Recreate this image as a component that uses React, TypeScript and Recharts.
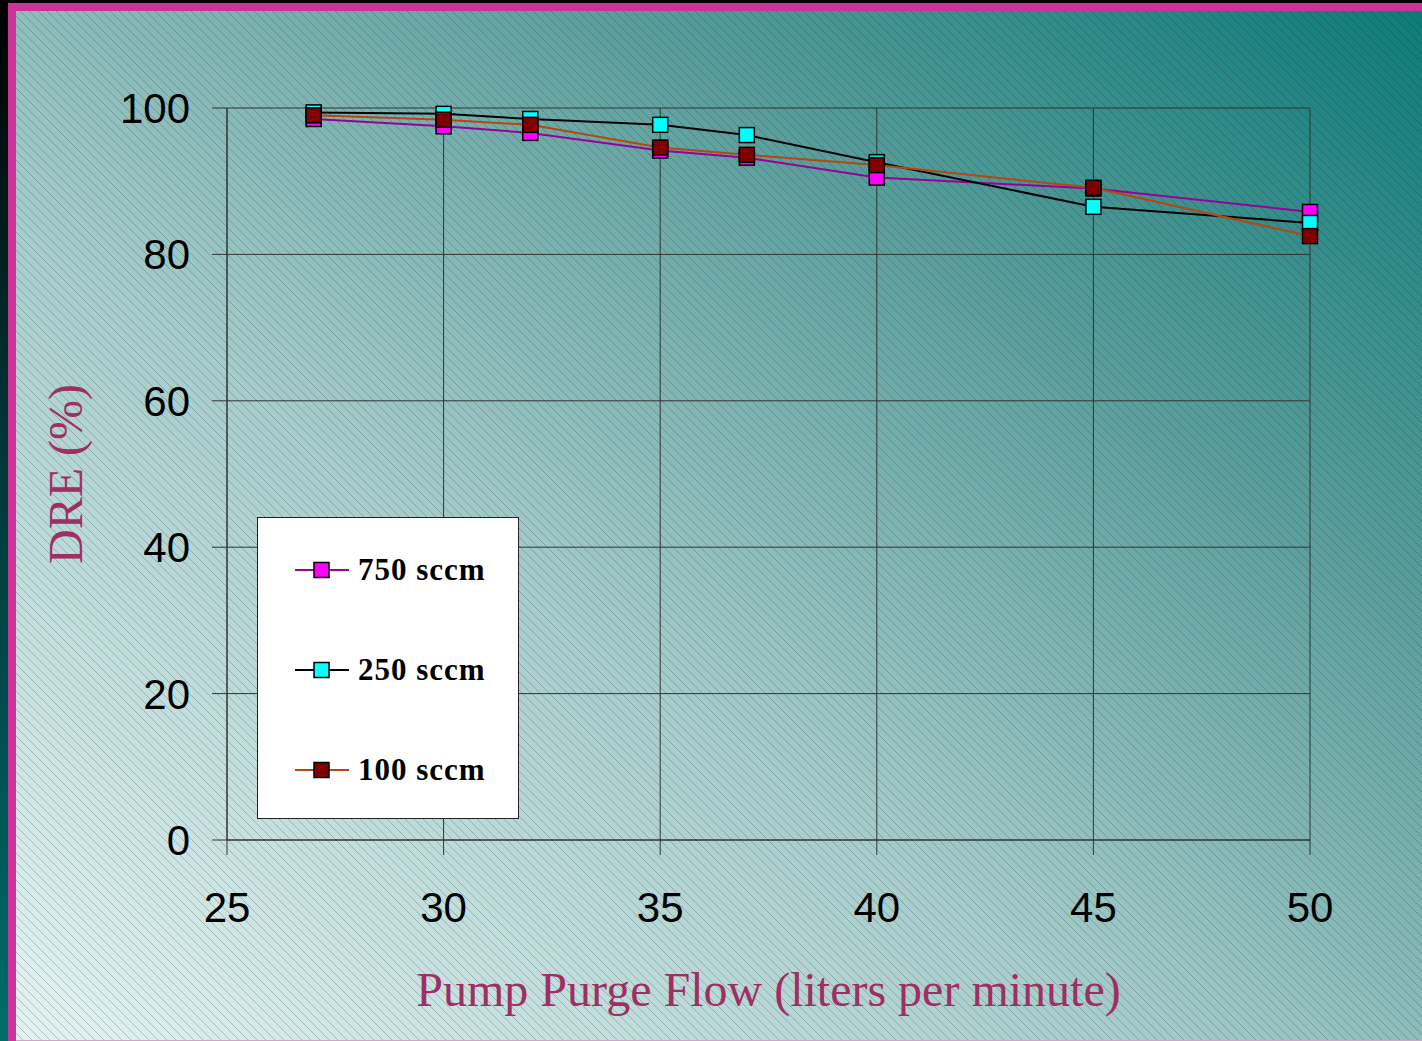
import React from "react";
import {
  LineChart,
  Line,
  XAxis,
  YAxis,
  CartesianGrid,
  Label,
} from "recharts";

// pump purge flow (l/min) where DRE was measured
const flow = [27, 30, 32, 35, 37, 40, 45, 50];
// DRE (%) per process flow
const dre750 = [98.5, 97.5, 96.6, 94.2, 93.2, 90.5, 89.0, 85.8];
const dre250 = [99.4, 99.2, 98.5, 97.7, 96.3, 92.6, 86.5, 84.3];
const dre100 = [99.0, 98.4, 97.7, 94.6, 93.6, 92.2, 89.1, 82.5];

const xTicks = [25, 30, 35, 40, 45, 50];
const yTicks = [0, 20, 40, 60, 80, 100];

const series = [
  { key: "s750", name: "750 sccm", line: "#990099", fill: "#ff00ff" },
  { key: "s250", name: "250 sccm", line: "#000000", fill: "#00ffff" },
  { key: "s100", name: "100 sccm", line: "#b5470f", fill: "#800000" },
];

const data = flow.map((f, i) => ({
  flow: f,
  s750: dre750[i],
  s250: dre250[i],
  s100: dre100[i],
}));

const TITLE_COLOR = "#9e2f62";
const SANS = "'Liberation Sans', Arial, sans-serif";
const SERIF = "'Liberation Serif', 'Times New Roman', serif";

// crisp diagonal hatch tile for the slide background
const hatchSvg =
  "<svg xmlns='http://www.w3.org/2000/svg' width='9' height='9'>" +
  "<path d='M0 0L9 9M-1 8L1 10M8 -1L10 1' stroke='rgba(0,30,30,0.22)' stroke-width='1'/></svg>";
const hatch = `url("data:image/svg+xml,${encodeURIComponent(hatchSvg)}")`;

const squareDot = (fill: string) => (props: any) => {
  const { cx, cy, index } = props;
  if (cx == null || cy == null) return <g key={index} />;
  return (
    <rect
      key={index}
      x={cx - 7.5}
      y={cy - 7.5}
      width={15}
      height={15}
      fill={fill}
      stroke="#000"
      strokeWidth={1.5}
    />
  );
};

// legend drawn as a box over the plot, like the original
const LegendBox = () => (
  <div
    style={{
      position: "absolute",
      left: 257,
      top: 517,
      width: 262,
      height: 302,
      background: "#fff",
      border: "1px solid #222",
      boxSizing: "border-box",
    }}
  >
    {series.map((s, i) => (
      <div
        key={s.key}
        style={{
          position: "absolute",
          left: 37,
          top: 52 + i * 100 - 16,
          height: 32,
          display: "flex",
          alignItems: "center",
        }}
      >
        <svg width={56} height={32}>
          <line x1={0} y1={16} x2={54} y2={16} stroke={s.line} strokeWidth={2} />
          <rect x={19} y={8.5} width={15} height={15} fill={s.fill} stroke="#000" strokeWidth={1.5} />
        </svg>
        <span
          style={{
            marginLeft: 7,
            fontFamily: SERIF,
            fontWeight: "bold",
            fontSize: 31,
            letterSpacing: 1,
            color: "#000",
            whiteSpace: "nowrap",
          }}
        >
          {s.name}
        </span>
      </div>
    ))}
  </div>
);

export default function App() {
  return (
    <div
      style={{
        position: "absolute",
        left: 0,
        top: 0,
        width: 1422,
        height: 1041,
        overflow: "hidden",
        backgroundImage: `${hatch}, linear-gradient(to top right, #e4f3f2 0%, #a6cccb 40%, #5d9f9d 70%, #0d7b79 100%)`,
        backgroundRepeat: "repeat, no-repeat",
        backgroundSize: "9px 9px, 100% 100%",
      }}
    >
      {/* frame */}
      <div style={{ position: "absolute", left: 0, top: 0, width: 1422, height: 3, background: "#000" }} />
      <div style={{ position: "absolute", left: 8, top: 3, width: 1414, height: 8, background: "#cc3399" }} />
      <div
        style={{
          position: "absolute",
          left: 0,
          top: 0,
          width: 8,
          height: 1041,
          background: "linear-gradient(to bottom, #000 0%, #033 40%, #006b6b 100%)",
        }}
      />
      <div style={{ position: "absolute", left: 8, top: 3, width: 8, height: 1038, background: "#cc3399" }} />
      <div style={{ position: "absolute", left: 16, top: 1040, width: 1406, height: 1, background: "#d9a0c8" }} />

      <div style={{ position: "absolute", left: 0, top: 0 }}>
        <LineChart
          width={1422}
          height={1041}
          data={data}
          margin={{ top: 108, right: 112, bottom: 121, left: 127 }}
        >
          <CartesianGrid stroke="#333" strokeWidth={1} />
          <XAxis
            dataKey="flow"
            type="number"
            domain={[25, 50]}
            ticks={xTicks}
            height={80}
            tickSize={15}
            tickMargin={37}
            stroke="#333"
            tick={{ fontFamily: SANS, fontSize: 42, fill: "#000" }}
          >
            <Label
              content={(p: any) => {
                const vb = p.viewBox;
                return (
                  <text
                    x={vb.x + vb.width / 2}
                    y={vb.y + 166}
                    textAnchor="middle"
                    fontFamily={SERIF}
                    fontSize={48}
                    fill={TITLE_COLOR}
                  >
                    Pump Purge Flow (liters per minute)
                  </text>
                );
              }}
            />
          </XAxis>
          <YAxis
            type="number"
            domain={[0, 100]}
            ticks={yTicks}
            width={100}
            tickSize={15}
            tickMargin={22}
            stroke="#333"
            tick={{ fontFamily: SANS, fontSize: 42, fill: "#000" }}
          >
            <Label
              content={(p: any) => {
                const vb = p.viewBox;
                const cx = 82;
                const cy = vb.y + vb.height / 2;
                return (
                  <text
                    x={cx}
                    y={cy}
                    transform={`rotate(-90 ${cx} ${cy})`}
                    textAnchor="middle"
                    fontFamily={SERIF}
                    fontSize={48}
                    fill={TITLE_COLOR}
                  >
                    DRE (%)
                  </text>
                );
              }}
            />
          </YAxis>
          {series.map((s) => (
            <Line
              key={s.key}
              dataKey={s.key}
              name={s.name}
              type="linear"
              stroke={s.line}
              strokeWidth={2}
              dot={squareDot(s.fill)}
              activeDot={false}
              isAnimationActive={false}
            />
          ))}
        </LineChart>
      </div>
      <LegendBox />
    </div>
  );
}
